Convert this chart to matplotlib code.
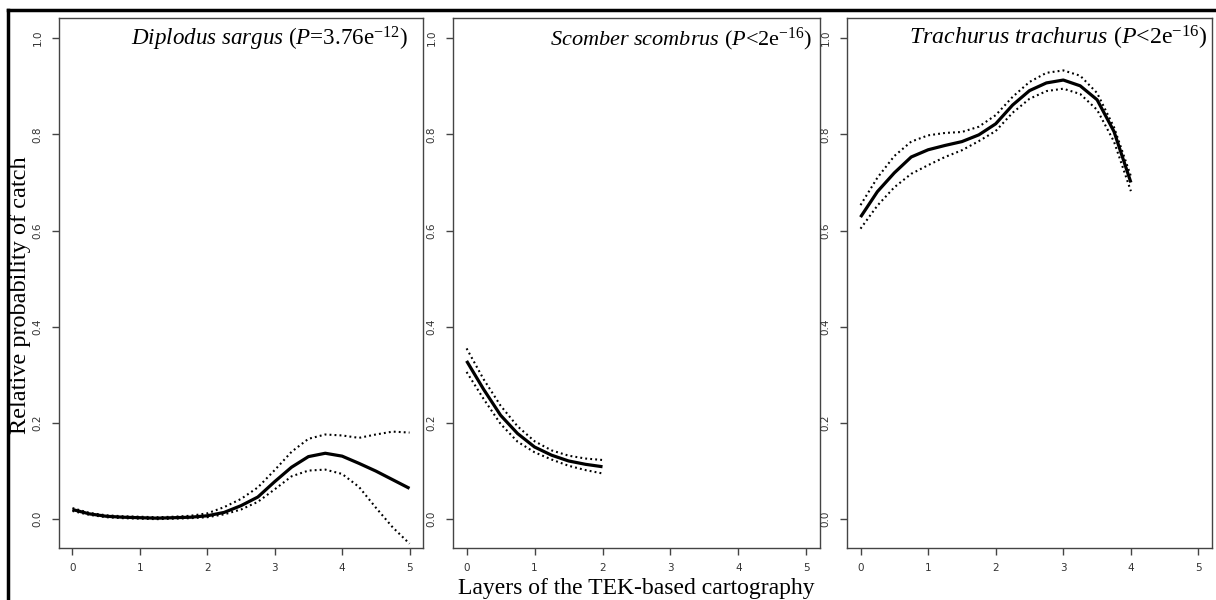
import numpy as np
import matplotlib
matplotlib.use('Agg')
import matplotlib.pyplot as plt
from matplotlib.lines import Line2D

plt.rcParams['mathtext.fontset'] = 'custom'
plt.rcParams['mathtext.rm'] = 'Liberation Serif'
plt.rcParams['mathtext.it'] = 'Liberation Serif:italic'

# ---------------- data ----------------
# Diplodus sargus
x_ds = [0, 0.25, 0.5, 0.75, 1.0, 1.25, 1.5, 1.75, 2.0, 2.25, 2.5,
        2.75, 3.0, 3.25, 3.5, 3.75, 4.0, 4.25, 4.5, 4.75, 5.0]
fit_ds = [0.020, 0.011, 0.006, 0.004, 0.003, 0.002, 0.003, 0.004, 0.007, 0.014, 0.028,
          0.046, 0.078, 0.108, 0.130, 0.137, 0.131, 0.116, 0.100, 0.082, 0.064]
up_ds = [0.023, 0.013, 0.008, 0.006, 0.005, 0.004, 0.005, 0.007, 0.012, 0.025, 0.042,
         0.066, 0.102, 0.140, 0.167, 0.176, 0.174, 0.169, 0.176, 0.182, 0.180]
lo_ds = [0.017, 0.009, 0.004, 0.002, 0.001, 0.000, 0.001, 0.002, 0.004, 0.010, 0.020,
         0.036, 0.062, 0.089, 0.101, 0.103, 0.094, 0.067, 0.024, -0.017, -0.051]

# Scomber scombrus
x_ss = [0, 0.25, 0.5, 0.75, 1.0, 1.25, 1.5, 1.75, 2.0]
fit_ss = [0.329, 0.270, 0.216, 0.178, 0.150, 0.133, 0.121, 0.114, 0.109]
up_ss = [0.355, 0.291, 0.236, 0.193, 0.162, 0.143, 0.132, 0.126, 0.123]
lo_ss = [0.306, 0.250, 0.198, 0.161, 0.139, 0.124, 0.111, 0.102, 0.095]

# Trachurus trachurus
x_tt = [0, 0.25, 0.5, 0.75, 1.0, 1.25, 1.5, 1.75, 2.0,
        2.25, 2.5, 2.75, 3.0, 3.25, 3.5, 3.75, 4.0]
fit_tt = [0.628, 0.681, 0.720, 0.753, 0.768, 0.777, 0.785, 0.799, 0.822,
          0.861, 0.891, 0.907, 0.913, 0.901, 0.872, 0.806, 0.700]
up_tt = [0.653, 0.710, 0.755, 0.785, 0.798, 0.803, 0.805, 0.816, 0.840,
         0.878, 0.909, 0.928, 0.933, 0.922, 0.886, 0.815, 0.713]
lo_tt = [0.604, 0.652, 0.690, 0.718, 0.736, 0.753, 0.767, 0.786, 0.807,
         0.845, 0.874, 0.890, 0.895, 0.884, 0.851, 0.785, 0.682]

titles = [r'$\mathit{Diplodus\ sargus}$ ($\mathit{P}$=3.76e$^{\mathrm{-12}}$)',
          r'$\mathit{Scomber\ scombrus}$ ($\mathit{P}$<2e$^{\mathrm{-16}}$)',
          r'$\mathit{Trachurus\ trachurus}$ ($\mathit{P}$<2e$^{\mathrm{-16}}$)']
xticks = [0, 1, 2, 3, 4, 5]
yticks = [0.0, 0.2, 0.4, 0.6, 0.8, 1.0]
ytick_labels = ['0.0', '0.2', '0.4', '0.6', '0.8', '1.0']
xlabel = 'Layers of the TEK-based cartography'
ylabel = 'Relative probability of catch'

panels = [(x_ds, fit_ds, up_ds, lo_ds),
          (x_ss, fit_ss, up_ss, lo_ss),
          (x_tt, fit_tt, up_tt, lo_tt)]

# ---------------- layout ----------------
W, H = 1216, 600
fig = plt.figure(figsize=(W / 100, H / 100), dpi=100)
lefts = [59, 453, 847]
rights = [423, 820, 1212]
top_px, bot_px = 18, 548
title_x = [0.959, 0.978, 0.986]
title_size = [16.6, 16.0, 17.2]
spine_col = '#444444'

for i, (xs, fit, up, lo) in enumerate(panels):
    ax = fig.add_axes([lefts[i] / W, 1 - bot_px / H,
                       (rights[i] - lefts[i]) / W, (bot_px - top_px) / H])
    ax.plot(xs, up, color='k', lw=1.5, linestyle=(0, (0.9, 1.5)))
    ax.plot(xs, lo, color='k', lw=1.5, linestyle=(0, (0.9, 1.5)))
    ax.plot(xs, fit, color='k', lw=2.3, solid_capstyle='butt')
    ax.set_xlim(-0.2, 5.2)
    ax.set_ylim(-0.06, 1.042)
    ax.set_xticks(xticks)
    ax.set_yticks(yticks)
    ax.set_yticklabels(ytick_labels, rotation=90, va='center')
    ax.tick_params(direction='out', length=5, width=1, colors=spine_col,
                   labelsize=7.5, labelcolor='#333333', pad=7)
    ax.tick_params(axis='x', pad=6)
    for s in ax.spines.values():
        s.set_color(spine_col)
        s.set_linewidth(1)
    ax.text(title_x[i], 0.949, titles[i], transform=ax.transAxes,
            ha='right', va='baseline', fontsize=title_size[i],
            family='Liberation Serif')

fig.text(636 / W, 1 - 594 / H, xlabel, ha='center', va='baseline',
         fontsize=17, family='Liberation Serif')
fig.text(21 / W, 1 - 295 / H, ylabel, ha='center', va='center',
         rotation=90, fontsize=17.5, family='Liberation Serif')

# outer frame (left and top edges)
fig.add_artist(Line2D([8 / W, 8 / W], [0, 1 - 10 / H], color='k', lw=2.5,
                      transform=fig.transFigure))
fig.add_artist(Line2D([8 / W, 1], [1 - 10 / H, 1 - 10 / H], color='k', lw=2.5,
                      transform=fig.transFigure))

fig.savefig('out.png', dpi=100)
